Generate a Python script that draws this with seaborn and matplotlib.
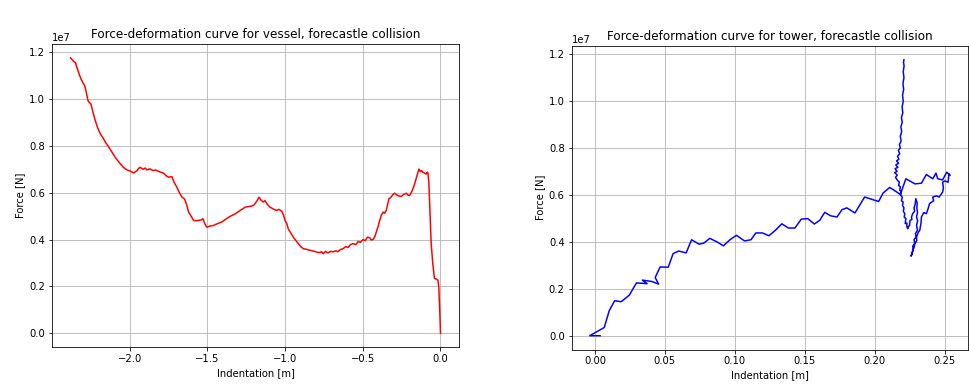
import matplotlib
matplotlib.use("Agg")
import matplotlib.pyplot as plt
import seaborn as sns
import pandas as pd

# ---- Vessel curve (indentation [m], force [1e7 N]) ----
vessel_x = [-2.381, -2.370, -2.359, -2.349, -2.340, -2.332, -2.322, -2.312, -2.300, -2.289,
            -2.280, -2.268, -2.260, -2.249, -2.235, -2.221, -2.205, -2.188, -2.170, -2.156,
            -2.135, -2.113, -2.090, -2.060, -2.040, -2.017, -1.995, -1.974, -1.963, -1.953,
            -1.943, -1.932, -1.915, -1.900, -1.889, -1.870, -1.850, -1.835, -1.810, -1.782,
            -1.765, -1.750, -1.729, -1.715, -1.696, -1.680, -1.664, -1.650, -1.643, -1.630,
            -1.621, -1.605, -1.589, -1.570, -1.557, -1.540, -1.529, -1.515, -1.504, -1.480,
            -1.461, -1.435, -1.407, -1.380, -1.354, -1.320, -1.290, -1.270, -1.258, -1.235,
            -1.215, -1.200, -1.194, -1.180, -1.168, -1.155, -1.140, -1.130, -1.119, -1.108,
            -1.097, -1.075, -1.055, -1.040, -1.022, -1.010, -1.001, -0.990, -0.980, -0.965,
            -0.948, -0.930, -0.916, -0.900, -0.883, -0.860, -0.840, -0.819, -0.800, -0.780,
            -0.765, -0.755, -0.740, -0.725, -0.705, -0.691, -0.675, -0.660, -0.645, -0.627,
            -0.610, -0.595, -0.580, -0.563, -0.545, -0.530, -0.515, -0.498, -0.485, -0.470,
            -0.456, -0.445, -0.434, -0.423, -0.413, -0.402, -0.391, -0.380, -0.370, -0.360,
            -0.349, -0.340, -0.332, -0.320, -0.306, -0.295, -0.284, -0.270, -0.252, -0.236,
            -0.220, -0.210, -0.199, -0.190, -0.182, -0.170, -0.160, -0.150, -0.139, -0.130,
            -0.122, -0.113, -0.100, -0.092, -0.085, -0.081, -0.075, -0.068, -0.060, -0.050,
            -0.039, -0.030, -0.017, -0.011, -0.005, 0.000]
vessel_f = [1.176, 1.168, 1.159, 1.155, 1.135, 1.119, 1.100, 1.084, 1.068, 1.056,
            1.030, 0.992, 0.985, 0.978, 0.940, 0.907, 0.875, 0.850, 0.832, 0.815,
            0.795, 0.772, 0.748, 0.723, 0.708, 0.697, 0.692, 0.684, 0.690, 0.694,
            0.704, 0.708, 0.700, 0.705, 0.697, 0.702, 0.694, 0.697, 0.690, 0.683,
            0.672, 0.666, 0.669, 0.645, 0.623, 0.600, 0.581, 0.575, 0.567, 0.540,
            0.517, 0.500, 0.482, 0.480, 0.482, 0.484, 0.489, 0.465, 0.453, 0.458,
            0.460, 0.468, 0.475, 0.488, 0.499, 0.510, 0.524, 0.532, 0.538, 0.541,
            0.543, 0.548, 0.553, 0.566, 0.581, 0.568, 0.560, 0.566, 0.555, 0.545,
            0.538, 0.530, 0.524, 0.529, 0.521, 0.505, 0.482, 0.470, 0.446, 0.430,
            0.411, 0.395, 0.383, 0.370, 0.361, 0.358, 0.354, 0.351, 0.347, 0.344,
            0.348, 0.340, 0.349, 0.343, 0.350, 0.347, 0.352, 0.348, 0.357, 0.361,
            0.370, 0.366, 0.378, 0.383, 0.378, 0.392, 0.388, 0.400, 0.395, 0.410,
            0.408, 0.398, 0.400, 0.412, 0.432, 0.455, 0.482, 0.505, 0.517, 0.512,
            0.524, 0.550, 0.574, 0.580, 0.592, 0.598, 0.592, 0.586, 0.584, 0.593,
            0.598, 0.590, 0.588, 0.598, 0.609, 0.630, 0.652, 0.675, 0.701, 0.690,
            0.695, 0.687, 0.682, 0.680, 0.688, 0.684, 0.645, 0.520, 0.383, 0.300,
            0.234, 0.232, 0.227, 0.198, 0.100, 0.000]

# ---- Tower curve (indentation [m], force [1e7 N]) ----
tower_x = [0.0037, -0.0037, 0.0067, 0.0102, 0.0141, 0.0188, 0.0246, 0.0297, 0.0373, 0.0339,
           0.0408, 0.0455, 0.0431, 0.0466, 0.0524, 0.0559, 0.0598, 0.0652, 0.0691, 0.0744,
           0.0779, 0.0821, 0.0872, 0.0918, 0.0965, 0.1011, 0.1069, 0.1115, 0.1150, 0.1197,
           0.1243, 0.1289, 0.1336, 0.1382, 0.1429, 0.1475, 0.1521, 0.1568, 0.1607, 0.1642,
           0.1684, 0.1730, 0.1765, 0.1800, 0.1858, 0.1927, 0.2027, 0.2059, 0.2106, 0.2148,
           0.2182, 0.2222, 0.2287, 0.2333, 0.2368, 0.2414, 0.2437, 0.2449, 0.2484, 0.2514,
           0.2537,
           # right branch coming down
           0.2530, 0.2523, 0.2500, 0.2484, 0.2490, 0.2484, 0.2470, 0.2460, 0.2440, 0.2414,
           0.2420, 0.2391, 0.2380, 0.2368, 0.2350, 0.2333, 0.2330, 0.2321, 0.2310, 0.2298,
           0.2300, 0.2286, 0.2280, 0.2275, 0.2268, 0.2263, 0.2258,
           # ridge going up
           0.2265, 0.2275, 0.2270, 0.2285, 0.2280, 0.2295, 0.2290, 0.2305, 0.2298, 0.2306,
           0.2298, 0.2305, 0.2300, 0.2303, 0.2293,
           # descending then climbing the left branch
           0.2288, 0.2280, 0.2284, 0.2270, 0.2262, 0.2265, 0.2252, 0.2248, 0.2240, 0.2235,
           0.2228, 0.2230, 0.2217, 0.2222, 0.2210, 0.2214, 0.2204, 0.2208, 0.2198, 0.2202,
           0.2190, 0.2196, 0.2184, 0.2190, 0.2178, 0.2182, 0.2170, 0.2175, 0.2162,
           # cluster and spike
           0.2148, 0.2160, 0.2142, 0.2158, 0.2145, 0.2165, 0.2150, 0.2170, 0.2155, 0.2172,
           0.2162, 0.2178, 0.2168, 0.2182, 0.2176, 0.2188, 0.2182, 0.2192, 0.2186, 0.2196,
           0.2190, 0.2200, 0.2195, 0.2203, 0.2198, 0.2206, 0.2201, 0.2208, 0.2203, 0.2209,
           0.2205, 0.2208]
tower_f = [0.000, 0.000, 0.035, 0.106, 0.149, 0.145, 0.173, 0.225, 0.222, 0.237,
           0.231, 0.220, 0.248, 0.293, 0.292, 0.350, 0.361, 0.353, 0.409, 0.390,
           0.395, 0.415, 0.400, 0.383, 0.409, 0.428, 0.404, 0.409, 0.438, 0.438,
           0.426, 0.449, 0.477, 0.459, 0.459, 0.497, 0.499, 0.476, 0.492, 0.526,
           0.511, 0.506, 0.537, 0.545, 0.523, 0.591, 0.572, 0.608, 0.632, 0.616,
           0.602, 0.669, 0.647, 0.650, 0.687, 0.669, 0.693, 0.669, 0.664, 0.697,
           0.683,
           0.690, 0.654, 0.660, 0.654, 0.630, 0.612, 0.600, 0.591, 0.596, 0.591,
           0.575, 0.563, 0.540, 0.520, 0.525, 0.506, 0.480, 0.449, 0.440, 0.421,
           0.405, 0.393, 0.375, 0.370, 0.355, 0.343, 0.339,
           0.350, 0.372, 0.380, 0.395, 0.410, 0.420, 0.435, 0.450, 0.470, 0.490,
           0.506, 0.525, 0.545, 0.565, 0.584,
           0.560, 0.545, 0.530, 0.520, 0.505, 0.495, 0.492, 0.470, 0.465, 0.456,
           0.468, 0.480, 0.478, 0.500, 0.505, 0.520, 0.530, 0.545, 0.555, 0.570,
           0.575, 0.590, 0.600, 0.615, 0.620, 0.635, 0.640, 0.655, 0.662,
           0.675, 0.685, 0.695, 0.700, 0.712, 0.718, 0.728, 0.735, 0.745, 0.752,
           0.765, 0.775, 0.790, 0.800, 0.815, 0.830, 0.850, 0.870, 0.890, 0.910,
           0.930, 0.950, 0.975, 1.000, 1.025, 1.050, 1.075, 1.100, 1.125, 1.150,
           1.165, 1.176]

titles = ["Force-deformation curve for vessel, forecastle collision",
          "Force-deformation curve for tower, forecastle collision"]
xlabel = "Indentation [m]"
ylabel = "Force [N]"

vessel = pd.DataFrame({"x": vessel_x, "f": [v * 1e7 for v in vessel_f]})
tower = pd.DataFrame({"x": tower_x, "f": [v * 1e7 for v in tower_f]})

fig = plt.figure(figsize=(969 / 72, 387 / 72), dpi=72)
ax1 = fig.add_axes([52 / 969, 1 - 347 / 387, 407 / 969, 303 / 387])
ax2 = fig.add_axes([571.7 / 969, 1 - 349.5 / 387, 396.3 / 969, 303.5 / 387])

sns.lineplot(data=vessel, x="x", y="f", sort=False, estimator=None, color="red",
             linewidth=1.5, ax=ax1)
sns.lineplot(data=tower, x="x", y="f", sort=False, estimator=None, color="blue",
             linewidth=1.5, ax=ax2)

for ax, t in zip([ax1, ax2], titles):
    ax.set_title(t)
    ax.set_xlabel(xlabel)
    ax.set_ylabel(ylabel)
    ax.grid(True)
    ax.set_yticks([0, 0.2e7, 0.4e7, 0.6e7, 0.8e7, 1.0e7, 1.2e7])

ax1.set_xticks([-2.0, -1.5, -1.0, -0.5, 0.0])
ax2.set_xticks([0.0, 0.05, 0.10, 0.15, 0.20, 0.25])

fig.savefig("out.png", dpi=72)
